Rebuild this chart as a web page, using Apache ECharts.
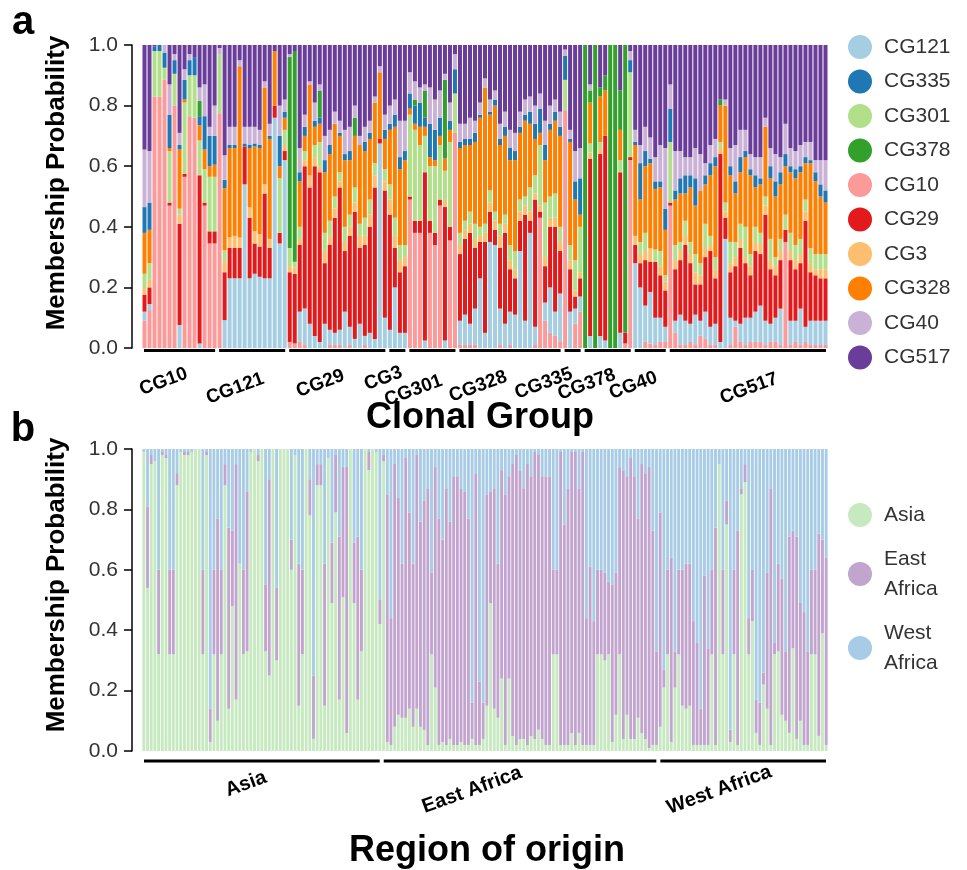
<!DOCTYPE html>
<html>
<head>
<meta charset="utf-8">
<script src="https://cdn.jsdelivr.net/npm/echarts@6/dist/echarts.min.js"></script>
<style>
html,body{margin:0;padding:0;background:#fff;}
#chart{width:967px;height:870px;}
</style>
</head>
<body>
<div id="chart"></div>
<script>
// ---------------- DATA ----------------
// Panel a: stacking order (bottom -> top) of clusters
const clusterNames = ['CG10','CG121','CG29','CG3','CG301','CG328','CG335','CG378','CG40','CG517'];
const legendOrderA = ['CG121','CG335','CG301','CG378','CG10','CG29','CG3','CG328','CG40','CG517'];
const groupNamesA = ['CG10','CG121','CG29','CG3','CG301','CG328','CG335','CG378','CG40','CG517'];

// each row = one isolate: [CG10, CG121, CG29, CG3, CG301, CG328, CG335, CG378, CG40, CG517]
const barsCG10 = [
[0.09,0.03,0.055,0.02,0.05,0.135,0.085,0,0.19,0.345],
[0.125,0.02,0.055,0.025,0.055,0.11,0.09,0,0.17,0.35],
[0.83,0,0,0,0.15,0,0.015,0,0,0.005],
[0.83,0,0,0,0.15,0,0.02,0,0,0],
[0.885,0,0,0,0.04,0,0.05,0,0.025,0],
[0.47,0,0.01,0,0.17,0.01,0.11,0,0.1,0.13],
[0.8,0,0,0,0.105,0,0.045,0,0.02,0.03],
[0,0.076,0.334,0.03,0.02,0.195,0.015,0,0.04,0.29],
[0.565,0,0.01,0,0.235,0.01,0.065,0,0.035,0.08],
[0.765,0,0,0,0.135,0,0.05,0,0.02,0.03],
[0.76,0,0,0,0.14,0,0.06,0,0,0.04],
[0,0.015,0.555,0,0.115,0.05,0.03,0.05,0.045,0.14],
[0.47,0,0.01,0,0.11,0.065,0.11,0,0.105,0.13],
[0.345,0,0.04,0,0.18,0.035,0.1,0,0.03,0.27],
[0.345,0,0.04,0,0.18,0.04,0.095,0,0.1,0.2]
];
const barsCG121 = [
[0.775,0,0,0,0.195,0,0,0,0.02,0.01],
[0,0.092,0.158,0.034,0.039,0.204,0.028,0,0.081,0.364],
[0,0.23,0.1,0.035,0,0.295,0.01,0,0.06,0.27],
[0,0.23,0.1,0.04,0,0.29,0.01,0,0.06,0.27],
[0,0.23,0.1,0.035,0,0.565,0,0,0.02,0.05],
[0,0.54,0.125,0,0,0,0.01,0,0.055,0.27],
[0,0.23,0.2,0.035,0,0.195,0.01,0,0.06,0.27],
[0,0.245,0.1,0.04,0,0.28,0.01,0,0.055,0.27],
[0,0.235,0.1,0.04,0,0.285,0.01,0,0.05,0.28],
[0,0.23,0.28,0.03,0,0.32,0,0,0.02,0.12],
[0,0.23,0.1,0.03,0,0.33,0.01,0,0.04,0.26],
[0,0.76,0.04,0,0,0.18,0,0,0,0.02],
[0,0.345,0.035,0,0.18,0.04,0.1,0,0.1,0.2],
[0,0.62,0.03,0.02,0.05,0.04,0.02,0,0.04,0.18]
];
const barsCG29 = [
[0.02,0,0.23,0.02,0.06,0,0,0.63,0.01,0.03],
[0.015,0,0.23,0.02,0.02,0,0,0.695,0,0.02],
[0.02,0.1,0.22,0.02,0.04,0.15,0.03,0,0.08,0.34],
[0.01,0.12,0.47,0.02,0.03,0.05,0.03,0,0.04,0.23],
[0,0.08,0.45,0.04,0,0.3,0,0,0.01,0.12],
[0,0.04,0.56,0.03,0.04,0.06,0.02,0,0.06,0.19],
[0,0.02,0.56,0.02,0.08,0.06,0.02,0.09,0.02,0.13],
[0,0.08,0.2,0.04,0.06,0.2,0.04,0,0.08,0.3],
[0.01,0.05,0.28,0.03,0.05,0.22,0.03,0,0.05,0.28],
[0.01,0.04,0.38,0.03,0.04,0.24,0,0,0.04,0.22],
[0.01,0.05,0.47,0.02,0.03,0.12,0.01,0,0.04,0.25],
[0,0.12,0.2,0.03,0.05,0.22,0.02,0,0.08,0.28],
[0.01,0.06,0.3,0.03,0.04,0.18,0.03,0,0.08,0.27],
[0,0.03,0.42,0.03,0.05,0.17,0,0.06,0.04,0.2],
[0,0.08,0.25,0.04,0.04,0.26,0,0,0.03,0.3],
[0.01,0.03,0.3,0.03,0.06,0.22,0.03,0,0.05,0.27],
[0,0.05,0.35,0.04,0.05,0.2,0.02,0,0.04,0.25],
[0,0.03,0.5,0.04,0.04,0.2,0,0,0.02,0.17],
[0,0.675,0.015,0,0,0.22,0,0,0.02,0.07],
[0,0.1,0.42,0.03,0.04,0.1,0.03,0,0.05,0.23]
];
const barsCG3 = [
[0,0.06,0.38,0.05,0.05,0.18,0.02,0,0.06,0.2],
[0,0.2,0.13,0.04,0.06,0.3,0.04,0,0.05,0.18],
[0,0.05,0.2,0.04,0.05,0.25,0.04,0,0.12,0.25],
[0,0.05,0.22,0.03,0.04,0.28,0.03,0,0.1,0.25]
];
const barsCG301 = [
[0.49,0,0.01,0,0.27,0.02,0.05,0,0.07,0.09],
[0.38,0,0.04,0,0.3,0.02,0.06,0.02,0.06,0.12],
[0.38,0,0.04,0,0.25,0.06,0.08,0,0.05,0.14],
[0,0.025,0.555,0,0.12,0.03,0.03,0.09,0.02,0.13],
[0.38,0,0.04,0,0.18,0.03,0.11,0,0.12,0.14],
[0.34,0,0.04,0,0.22,0.02,0.1,0,0.1,0.18],
[0.47,0,0.02,0,0.18,0.03,0.06,0,0.09,0.15],
[0,0.025,0.44,0.02,0.1,0.04,0,0.26,0.02,0.095],
[0.355,0,0.045,0,0.28,0.04,0.03,0,0.06,0.19],
[0.71,0,0,0,0.13,0,0.08,0,0.05,0.03]
];
const barsCG328 = [
[0.01,0.08,0.22,0.03,0.04,0.28,0.02,0,0.06,0.26],
[0.01,0.1,0.25,0.03,0.03,0.25,0.02,0,0.05,0.26],
[0.01,0.07,0.3,0.03,0.04,0.22,0.02,0,0.07,0.24],
[0.01,0.12,0.2,0.03,0.05,0.27,0.03,0,0.04,0.25],
[0,0.23,0.12,0.02,0.03,0.36,0.01,0,0.04,0.19],
[0,0.05,0.3,0.03,0.03,0.45,0,0,0.03,0.11],
[0,0.35,0.1,0.03,0.04,0.25,0.01,0,0.04,0.18],
[0,0.34,0.05,0.03,0.03,0.35,0.02,0,0.03,0.15],
[0.01,0.12,0.2,0.04,0.04,0.26,0.02,0,0.05,0.26],
[0,0.08,0.3,0.03,0.03,0.26,0.03,0,0.05,0.22],
[0.01,0.11,0.14,0.03,0.05,0.28,0.04,0,0.06,0.28],
[0,0.11,0.12,0.03,0.06,0.3,0.03,0,0.06,0.29],
[0,0.32,0.1,0.03,0.04,0.22,0.02,0,0.05,0.22],
[0,0.09,0.35,0.03,0.03,0.25,0.02,0,0.05,0.18],
[0,0.38,0.04,0.03,0.08,0.21,0.04,0,0.05,0.17],
[0.01,0.06,0.42,0.02,0.06,0.12,0.05,0,0.06,0.2],
[0.43,0,0.02,0.02,0.2,0.04,0.08,0,0.05,0.16],
[0.09,0.06,0.12,0.03,0.18,0.14,0.05,0,0.08,0.25],
[0.05,0.15,0.2,0.03,0.07,0.22,0.02,0,0.06,0.2],
[0.04,0.08,0.28,0.03,0.08,0.24,0.03,0,0.04,0.18],
[0.02,0.16,0.14,0.03,0.05,0.3,0.03,0,0.05,0.22]
];
const barsCG335 = [
[0.785,0,0,0,0.1,0,0.08,0,0.02,0.015],
[0,0.12,0.14,0.03,0.05,0.34,0.01,0,0.03,0.28],
[0.08,0.05,0.04,0.02,0.1,0.2,0.06,0,0.1,0.35],
[0.12,0.05,0.06,0.02,0.15,0.04,0.12,0,0.1,0.34]
];
const barsCG378 = [
[0,0,0,0,0,0,0,1,0,0],
[0,0.04,0.585,0.02,0.03,0.135,0,0.04,0.02,0.13],
[0,0,0,0,0,0,0,1,0,0],
[0,0.04,0.6,0.02,0.02,0.15,0,0.03,0,0.14],
[0,0.025,0.675,0,0,0.15,0,0.05,0,0.1],
[0,0,0,0,0,0,0,1,0,0],
[0,0,0,0,0,0,0,1,0,0],
[0,0.05,0.53,0,0.04,0.1,0,0.13,0,0.15],
[0.015,0,0.035,0,0,0,0,0.95,0,0],
[0.62,0,0.01,0,0.28,0,0.04,0,0.03,0.02]
];
const barsCG40 = [
[0,0.28,0.06,0.03,0,0.3,0.01,0,0.04,0.28],
[0,0.2,0.08,0.03,0.04,0.14,0.12,0,0.06,0.33],
[0.02,0.12,0.15,0.03,0.06,0.22,0.05,0,0.08,0.27],
[0.015,0.17,0.1,0.045,0,0.28,0.015,0,0.07,0.305],
[0.01,0.09,0.185,0,0.04,0.2,0.025,0,0.08,0.37],
[0.02,0.08,0.14,0.03,0.05,0.21,0.02,0,0.12,0.33],
[0.02,0.05,0.12,0.03,0.02,0.15,0.07,0,0.2,0.34]
];
const barsCG517 = [
[0.47,0,0.01,0,0.2,0,0.11,0,0.08,0.13],
[0.05,0.04,0.17,0.03,0.05,0.15,0.03,0,0.13,0.35],
[0.01,0.1,0.18,0.03,0.03,0.16,0.05,0,0.09,0.35],
[0.01,0.08,0.25,0.03,0.05,0.09,0.06,0,0.06,0.37],
[0.02,0.06,0.2,0.03,0.04,0.18,0.04,0,0.06,0.37],
[0.01,0.1,0.1,0.04,0.06,0.16,0.09,0,0.1,0.34],
[0.04,0.05,0.12,0.03,0.04,0.24,0,0,0.12,0.36],
[0.03,0.09,0.18,0.03,0.08,0.13,0.03,0,0.04,0.39],
[0.01,0.06,0.25,0.02,0.03,0.2,0.04,0,0.06,0.33],
[0.01,0.07,0.15,0.03,0.04,0.3,0.03,0,0.06,0.31],
[0,0.02,0.62,0.02,0.02,0.12,0,0.02,0,0.18],
[0,0.36,0.07,0.02,0.03,0.32,0,0,0.02,0.18],
[0.01,0.09,0.15,0.03,0.07,0.22,0.03,0,0.06,0.34],
[0.07,0.02,0.18,0.03,0.05,0.16,0.04,0,0.12,0.33],
[0.02,0.06,0.25,0.03,0.05,0.17,0.05,0,0.09,0.28],
[0.01,0.09,0.18,0.02,0.1,0.23,0.02,0,0.07,0.28],
[0.02,0.08,0.14,0.03,0.04,0.26,0.02,0,0.05,0.36],
[0.02,0.1,0.2,0.03,0.05,0.13,0.04,0,0.06,0.37],
[0.02,0.12,0.17,0.03,0.04,0.16,0.02,0,0.07,0.37],
[0.01,0.08,0.35,0.03,0.03,0.23,0,0,0.03,0.24],
[0.02,0.06,0.18,0.03,0.07,0.2,0.04,0,0.06,0.34],
[0.02,0.08,0.14,0.03,0.03,0.2,0.05,0,0.09,0.36],
[0.01,0.12,0.16,0.03,0.04,0.18,0.04,0,0.05,0.37],
[0.35,0,0.04,0,0.05,0.16,0.04,0,0.1,0.26],
[0.01,0.08,0.2,0.03,0.06,0.2,0.02,0,0.06,0.34],
[0.02,0.07,0.17,0.03,0.05,0.22,0.03,0,0.06,0.35],
[0.01,0.12,0.15,0.03,0.05,0.22,0.02,0,0.07,0.33],
[0.02,0.05,0.35,0.03,0.04,0.12,0.02,0,0.05,0.32],
[0.01,0.08,0.16,0.03,0.05,0.28,0.01,0,0.06,0.32],
[0.01,0.08,0.15,0.02,0.05,0.24,0.03,0,0.04,0.38],
[0.01,0.08,0.14,0.03,0.05,0.19,0.04,0,0.08,0.38],
[0.01,0.08,0.14,0.03,0.05,0.17,0.04,0,0.1,0.38]
];

// Panel b: each row = [Asia, East Africa, West Africa]
const regionNames = ['Asia','East Africa','West Africa'];
const barsAsia = [
[0.99,0,0.01],[0.54,0.27,0.19],[0.95,0.03,0.02],[0.96,0,0.04],[0.32,0.28,0.4],
[0.98,0.01,0.01],[0.97,0.01,0.02],[0.32,0.28,0.4],[0.32,0.28,0.4],[0.88,0.04,0.08],
[0.99,0,0.01],[0.98,0.01,0.01],[0.98,0.01,0.01],[0.99,0,0.01],[1,0,0],
[1,0,0],[0.32,0.28,0.4],[0.98,0.01,0.01],[0.03,0.11,0.86],[0.32,0.28,0.4],
[0.1,0.67,0.23],[0.32,0.28,0.4],[0.88,0.07,0.05],[0.14,0.6,0.26],[0.48,0.25,0.27],
[0.17,0.78,0.05],[0.62,0,0.38],[0.32,0.28,0.4],[0.33,0.53,0.14],[0.99,0,0.01],
[1,0,0],[0.96,0.02,0.02],[1,0,0],[0.33,0.22,0.45],[0.25,0.65,0.1],
[1,0,0],[0.3,0.24,0.46],[1,0,0],[1,0,0],[1,0,0],
[0.6,0.1,0.3],[0.98,0,0.02],[0.15,0.47,0.38],[0.32,0.28,0.4],[1,0,0],
[0.78,0.12,0.1],[0.04,0.21,0.75],[0.88,0.07,0.05],[0.88,0.07,0.05],[0.15,0.47,0.38],
[0.97,0,0.03],[0.49,0.2,0.31],[0.79,0.19,0.02],[0.17,0.54,0.29],[0.51,0.43,0.06],
[0.06,0.88,0.06],[1,0,0],[0.49,0.2,0.31],[0.17,0.54,0.29],[0.33,0.27,0.4],
[1,0,0],[0.93,0.06,0.01],[1,0,0],[0.99,0,0.01],[0.42,0.08,0.5]
];
const barsEastAfrica = [
[0.96,0.02,0.02],[0.03,0.82,0.15],[0.02,0.42,0.56],[0.08,0.87,0.05],[0.12,0.72,0.16],
[0.11,0.51,0.38],[0.11,0.86,0.03],[0.14,0.65,0.21],[0.08,0.54,0.38],[0.14,0.84,0.02],
[0.08,0.68,0.24],[0.07,0.76,0.17],[0.02,0.85,0.13],[0.32,0.27,0.41],[0.21,0.73,0.06],
[0.02,0.75,0.23],[0.03,0.67,0.3],[0.02,0.85,0.13],[0.04,0.72,0.24],[0.02,0.89,0.09],
[0.02,0.89,0.09],[0.03,0.84,0.13],[0.02,0.84,0.14],[0.02,0.75,0.23],[0.04,0.12,0.84],
[0.02,0.9,0.08],[0.02,0.21,0.77],[0.04,0.12,0.84],[0.15,0.7,0.15],[0.49,0.37,0.14],
[0.14,0.73,0.13],[0.11,0.51,0.38],[0.24,0.69,0.07],[0.02,0.83,0.15],[0.24,0.67,0.09],
[0.05,0.9,0.05],[0.02,0.96,0.02],[0.04,0.89,0.07],[0.04,0.83,0.13],[0.02,0.93,0.05],
[0.05,0.86,0.09],[0.04,0.95,0.01],[0.07,0.91,0.02],[0.04,0.87,0.09],[0.02,0.89,0.09],
[0.02,0.89,0.09],[0.32,0.28,0.4],[0.32,0.28,0.4],[0.02,0.97,0.01],[0.02,0.73,0.25],
[0.02,0.85,0.13],[0.06,0.93,0.01],[0.02,0.97,0.01],[0.06,0.81,0.13],[0.02,0.97,0.01],
[0.02,0.42,0.56],[0.02,0.59,0.39],[0.02,0.41,0.57],[0.32,0.28,0.4],[0.32,0.28,0.4],
[0.3,0.29,0.41],[0.32,0.24,0.44],[0.03,0.52,0.45],[0.12,0.47,0.41],[0.32,0.62,0.06],
[0.04,0.89,0.07],[0.12,0.79,0.09],[0.04,0.93,0.03],[0.04,0.87,0.09],[0.11,0.66,0.23],
[0.06,0.89,0.05],[0.04,0.88,0.08],[0.01,0.93,0.06],[0.02,0.71,0.27],[0.02,0.31,0.67]
];
const barsWestAfrica = [
[0.08,0.71,0.21],[0.21,0.06,0.73],[0.32,0.28,0.4],[0.03,0.61,0.36],[0.21,0.12,0.67],
[0.32,0.28,0.4],[0.15,0.45,0.4],[0.14,0.48,0.38],[0.15,0.47,0.38],[0.02,0.41,0.57],
[0.02,0.34,0.64],[0.02,0.12,0.86],[0.02,0.56,0.42],[0.02,0.32,0.66],[0.32,0.28,0.4],
[0.02,0.72,0.26],[0.95,0,0.05],[0.32,0.28,0.4],[0.75,0.08,0.17],[0.03,0.04,0.93],
[0.32,0.28,0.4],[0.02,0.71,0.27],[0.85,0.02,0.13],[0.89,0.06,0.05],[0.32,0.12,0.56],
[0.43,0.17,0.4],[0.06,0.11,0.83],[0.02,0.14,0.84],[0.22,0.04,0.74],[0.14,0.45,0.41],
[0.02,0.85,0.13],[0.32,0.04,0.64],[0.33,0.29,0.38],[0.12,0.45,0.43],[0.1,0.23,0.67],
[0.06,0.65,0.29],[0.34,0.39,0.27],[0.04,0.67,0.29],[0.1,0.39,0.51],[0.02,0.44,0.54],
[0.02,0.31,0.67],[0.32,0.28,0.4],[0.32,0.28,0.4],[0.05,0.67,0.28],[0.39,0.31,0.3],
[0.02,0.62,0.36]
];

// ---------------- STYLE / LAYOUT ----------------
const FONT = "'Liberation Sans', Arial, Helvetica, sans-serif";
const colorsA = {
  CG121:'#a6cee3', CG335:'#1f78b4', CG301:'#b2df8a', CG378:'#33a02c', CG10:'#fb9a99',
  CG29:'#e31a1c', CG3:'#fdbf6f', CG328:'#ff7f00', CG40:'#cab2d6', CG517:'#6a3d9a'
};
const colorsB = {'Asia':'#c7e9c0','East Africa':'#c2a5cf','West Africa':'#a8cbe6'};
const labelDxA = [-16,-17,-17,-14,-19,-32,-29,-21,-17,1];
const labelDyA = [31,38,33,28,40,36,33,34,35,38];
const labelDxB = [-16,-48,-24];
const labelDyB = [23,29,29];

const groupBarsA = [barsCG10,barsCG121,barsCG29,barsCG3,barsCG301,barsCG328,barsCG335,barsCG378,barsCG40,barsCG517];
const groupBarsB = [barsAsia,barsEastAfrica,barsWestAfrica];

function spans(groups){ let s=0; return groups.map(g=>{const r=[s,s+g.length-1]; s+=g.length; return r;}); }
const rowsA = groupBarsA.flat();
const rowsB = groupBarsB.flat();
const spansA = spans(groupBarsA);
const spansB = spans(groupBarsB);

function groupSeries(gridIdx, spanList, names, dx, dy, lineDy, fontSize){
  return {
    type:'custom', xAxisIndex:gridIdx, yAxisIndex:gridIdx, silent:true, clip:false, z:10,
    encode:{x:0, y:-1},
    data: spanList.map((s,k)=>[s[0], s[1], k]),
    renderItem: function(params, api){
      const i0 = api.value(0), i1 = api.value(1), k = api.value(2);
      const p0 = api.coord([i0, 0]), p1 = api.coord([i1, 0]);
      const bw = api.size([1, 0])[0];
      const x0 = p0[0] - bw/2 + 2, x1 = p1[0] + bw/2 - 2;
      const y = p0[1] + lineDy;
      const cx = (x0 + x1)/2;
      return {type:'group', children:[
        {type:'line', shape:{x1:x0, y1:y, x2:x1, y2:y}, style:{stroke:'#000', lineWidth:3}},
        {type:'text', x:cx + dx[k], y:y + dy[k], rotation: 20*Math.PI/180,
         style:{text:names[k], font:'bold '+fontSize+'px '+FONT, fill:'#000', align:'center', verticalAlign:'middle'}}
      ]};
    }
  };
}

const chart = echarts.init(document.getElementById('chart'), null, {renderer:'canvas'});

const yAxisCommon = {
  type:'value', min:0, max:1, interval:0.2, offset:10,
  axisLine:{show:true, lineStyle:{color:'#000', width:1.5}},
  axisTick:{show:true, length:8, lineStyle:{color:'#000', width:1.5}},
  splitLine:{show:false},
  axisLabel:{fontSize:21, color:'#333', fontFamily:FONT, margin:14, formatter:v=>v.toFixed(1)}
};
const xAxisCommon = {
  type:'category', axisLine:{show:false}, axisTick:{show:false}, axisLabel:{show:false}, splitLine:{show:false}
};

const seriesA = clusterNames.map((n,k)=>({
  name:n, type:'bar', stack:'a', xAxisIndex:0, yAxisIndex:0, barCategoryGap:'20%',
  itemStyle:{color:colorsA[n]}, data: rowsA.map(r=>r[k])
}));
const seriesB = regionNames.map((n,k)=>({
  name:n, type:'bar', stack:'b', xAxisIndex:1, yAxisIndex:1, barCategoryGap:'22%',
  itemStyle:{color:colorsB[n]}, data: rowsB.map(r=>r[k])
}));

const option = {
  animation:false,
  backgroundColor:'#fff',
  textStyle:{fontFamily:FONT},
  grid:[
    {left:142, top:45, width:686, height:303},
    {left:142, top:449, width:686, height:302}
  ],
  xAxis:[
    Object.assign({gridIndex:0, data: rowsA.map((r,i)=>String(i+1))}, xAxisCommon),
    Object.assign({gridIndex:1, data: rowsB.map((r,i)=>String(i+1))}, xAxisCommon)
  ],
  yAxis:[
    Object.assign({gridIndex:0}, yAxisCommon),
    Object.assign({gridIndex:1}, yAxisCommon)
  ],
  legend:[
    {data:legendOrderA, orient:'vertical', left:848, top:35, padding:0, itemWidth:38, itemHeight:24, itemGap:10.5,
     icon:'circle', selectedMode:false, textStyle:{fontSize:21, color:'#333', fontFamily:FONT, lineHeight:24}},
    {data:regionNames, orient:'vertical', left:848, top:500, padding:0, itemWidth:38, itemHeight:24, itemGap:14,
     icon:'circle', selectedMode:false, formatter:n=>n.replace(' ','\n'),
     textStyle:{fontSize:21, color:'#333', fontFamily:FONT, lineHeight:30}}
  ],
  graphic:[
    {type:'text', x:23, y:23, style:{text:'a', font:'bold 40px '+FONT, fill:'#000', align:'center', verticalAlign:'middle'}},
    {type:'text', x:23, y:430, style:{text:'b', font:'bold 40px '+FONT, fill:'#000', align:'center', verticalAlign:'middle'}},
    {type:'text', x:57, y:183, rotation:Math.PI/2, style:{text:'Membership Probability', font:'bold 26px '+FONT, fill:'#000', align:'center', verticalAlign:'middle'}},
    {type:'text', x:57, y:585, rotation:Math.PI/2, style:{text:'Membership Probability', font:'bold 26px '+FONT, fill:'#000', align:'center', verticalAlign:'middle'}},
    {type:'text', x:480, y:418, style:{text:'Clonal Group', font:'bold 36px '+FONT, fill:'#000', align:'center', verticalAlign:'middle'}},
    {type:'text', x:487, y:851, style:{text:'Region of origin', font:'bold 36px '+FONT, fill:'#000', align:'center', verticalAlign:'middle'}}
  ],
  series: seriesA.concat(seriesB).concat([
    groupSeries(0, spansA, groupNamesA, labelDxA, labelDyA, 2.5, 19),
    groupSeries(1, spansB, regionNames, labelDxB, labelDyB, 10, 20)
  ])
};
chart.setOption(option);
</script>
</body>
</html>
